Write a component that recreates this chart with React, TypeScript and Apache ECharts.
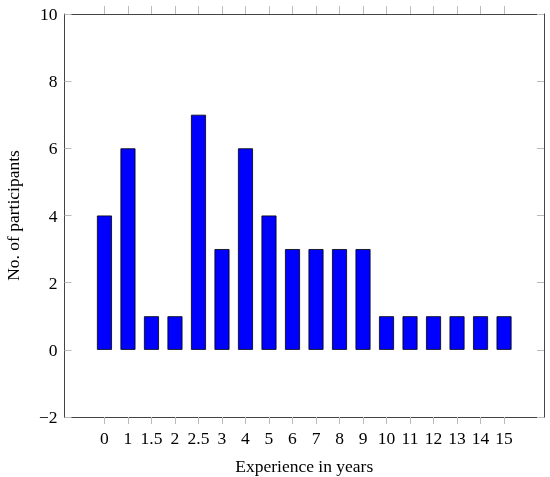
import React, { useEffect, useRef } from "react";
import * as echarts from "echarts";

const categories = ["0", "1", "1.5", "2", "2.5", "3", "4", "5", "6", "7", "8", "9", "10", "11", "12", "13", "14", "15"];
const participants = [4, 6, 1, 1, 7, 3, 6, 4, 3, 3, 3, 3, 1, 1, 1, 1, 1, 1];
const yTicks = [-2, 0, 2, 4, 6, 8, 10];

const FONT = "'Liberation Serif', 'DejaVu Serif', serif";
const FS = 17.5;

export default function App() {
  const ref = useRef<HTMLDivElement>(null);
  useEffect(() => {
    if (!ref.current) return;
    const chart = echarts.init(ref.current, null, { renderer: "svg" });
    const idx = categories.map((_, i) => i);
    const xBase = {
      type: "value" as const,
      min: -1.7,
      max: categories.length - 1 + 1.7,
      splitLine: { show: false },
      axisLine: { show: true, onZero: false, lineStyle: { color: "#444", width: 1 } },
    };
    const yBase = {
      type: "value" as const,
      min: -2,
      max: 10,
      interval: 2,
      splitLine: { show: false },
      axisLine: { show: true, onZero: false, lineStyle: { color: "#444", width: 1 } },
      axisTick: { show: true, inside: true, length: 7, lineStyle: { color: "#bbb" } },
    };
    chart.setOption({
      animation: false,
      grid: { left: 64.5, right: 6, top: 14, bottom: 60, containLabel: false, outerBoundsMode: "none" },
      xAxis: [
        {
          ...xBase,
          position: "bottom",
          name: "Experience in years",
          nameLocation: "middle",
          nameGap: 40,
          nameTextStyle: { fontFamily: FONT, fontSize: FS, color: "#000" },
          axisTick: { show: true, inside: false, length: 7, customValues: idx, lineStyle: { color: "#bbb" } },
          axisLabel: {
            show: true,
            customValues: idx,
            margin: 12,
            fontFamily: FONT,
            fontSize: FS,
            color: "#000",
            formatter: (v: number) => categories[Math.round(v)] ?? "",
          },
        },
        {
          ...xBase,
          position: "top",
          axisTick: { show: true, inside: false, length: 8, customValues: idx, lineStyle: { color: "#bbb" } },
          axisLabel: { show: false },
        },
      ],
      yAxis: [
        {
          ...yBase,
          position: "left",
          name: "No. of participants",
          nameLocation: "middle",
          nameGap: 43,
          nameRotate: 90,
          nameTextStyle: { fontFamily: FONT, fontSize: FS, color: "#000" },
          axisLabel: {
            margin: 7,
            fontFamily: FONT,
            fontSize: FS,
            color: "#000",
            formatter: (v: number) => (yTicks.includes(v) ? String(v).replace("-", "\u2212") : ""),
          },
        },
        {
          ...yBase,
          position: "right",
          axisLabel: { show: false },
        },
      ],
      series: [
        {
          type: "bar",
          xAxisIndex: 0,
          yAxisIndex: 0,
          barWidth: 15,
          data: participants.map((v, i) => [i, v]),
          itemStyle: { color: "#0000ff", borderColor: "#000", borderWidth: 0.8 },
        },
      ],
    });
    return () => chart.dispose();
  }, []);
  return <div ref={ref} style={{ position: "fixed", left: 0, top: 0, width: 550, height: 477 }} />;
}
